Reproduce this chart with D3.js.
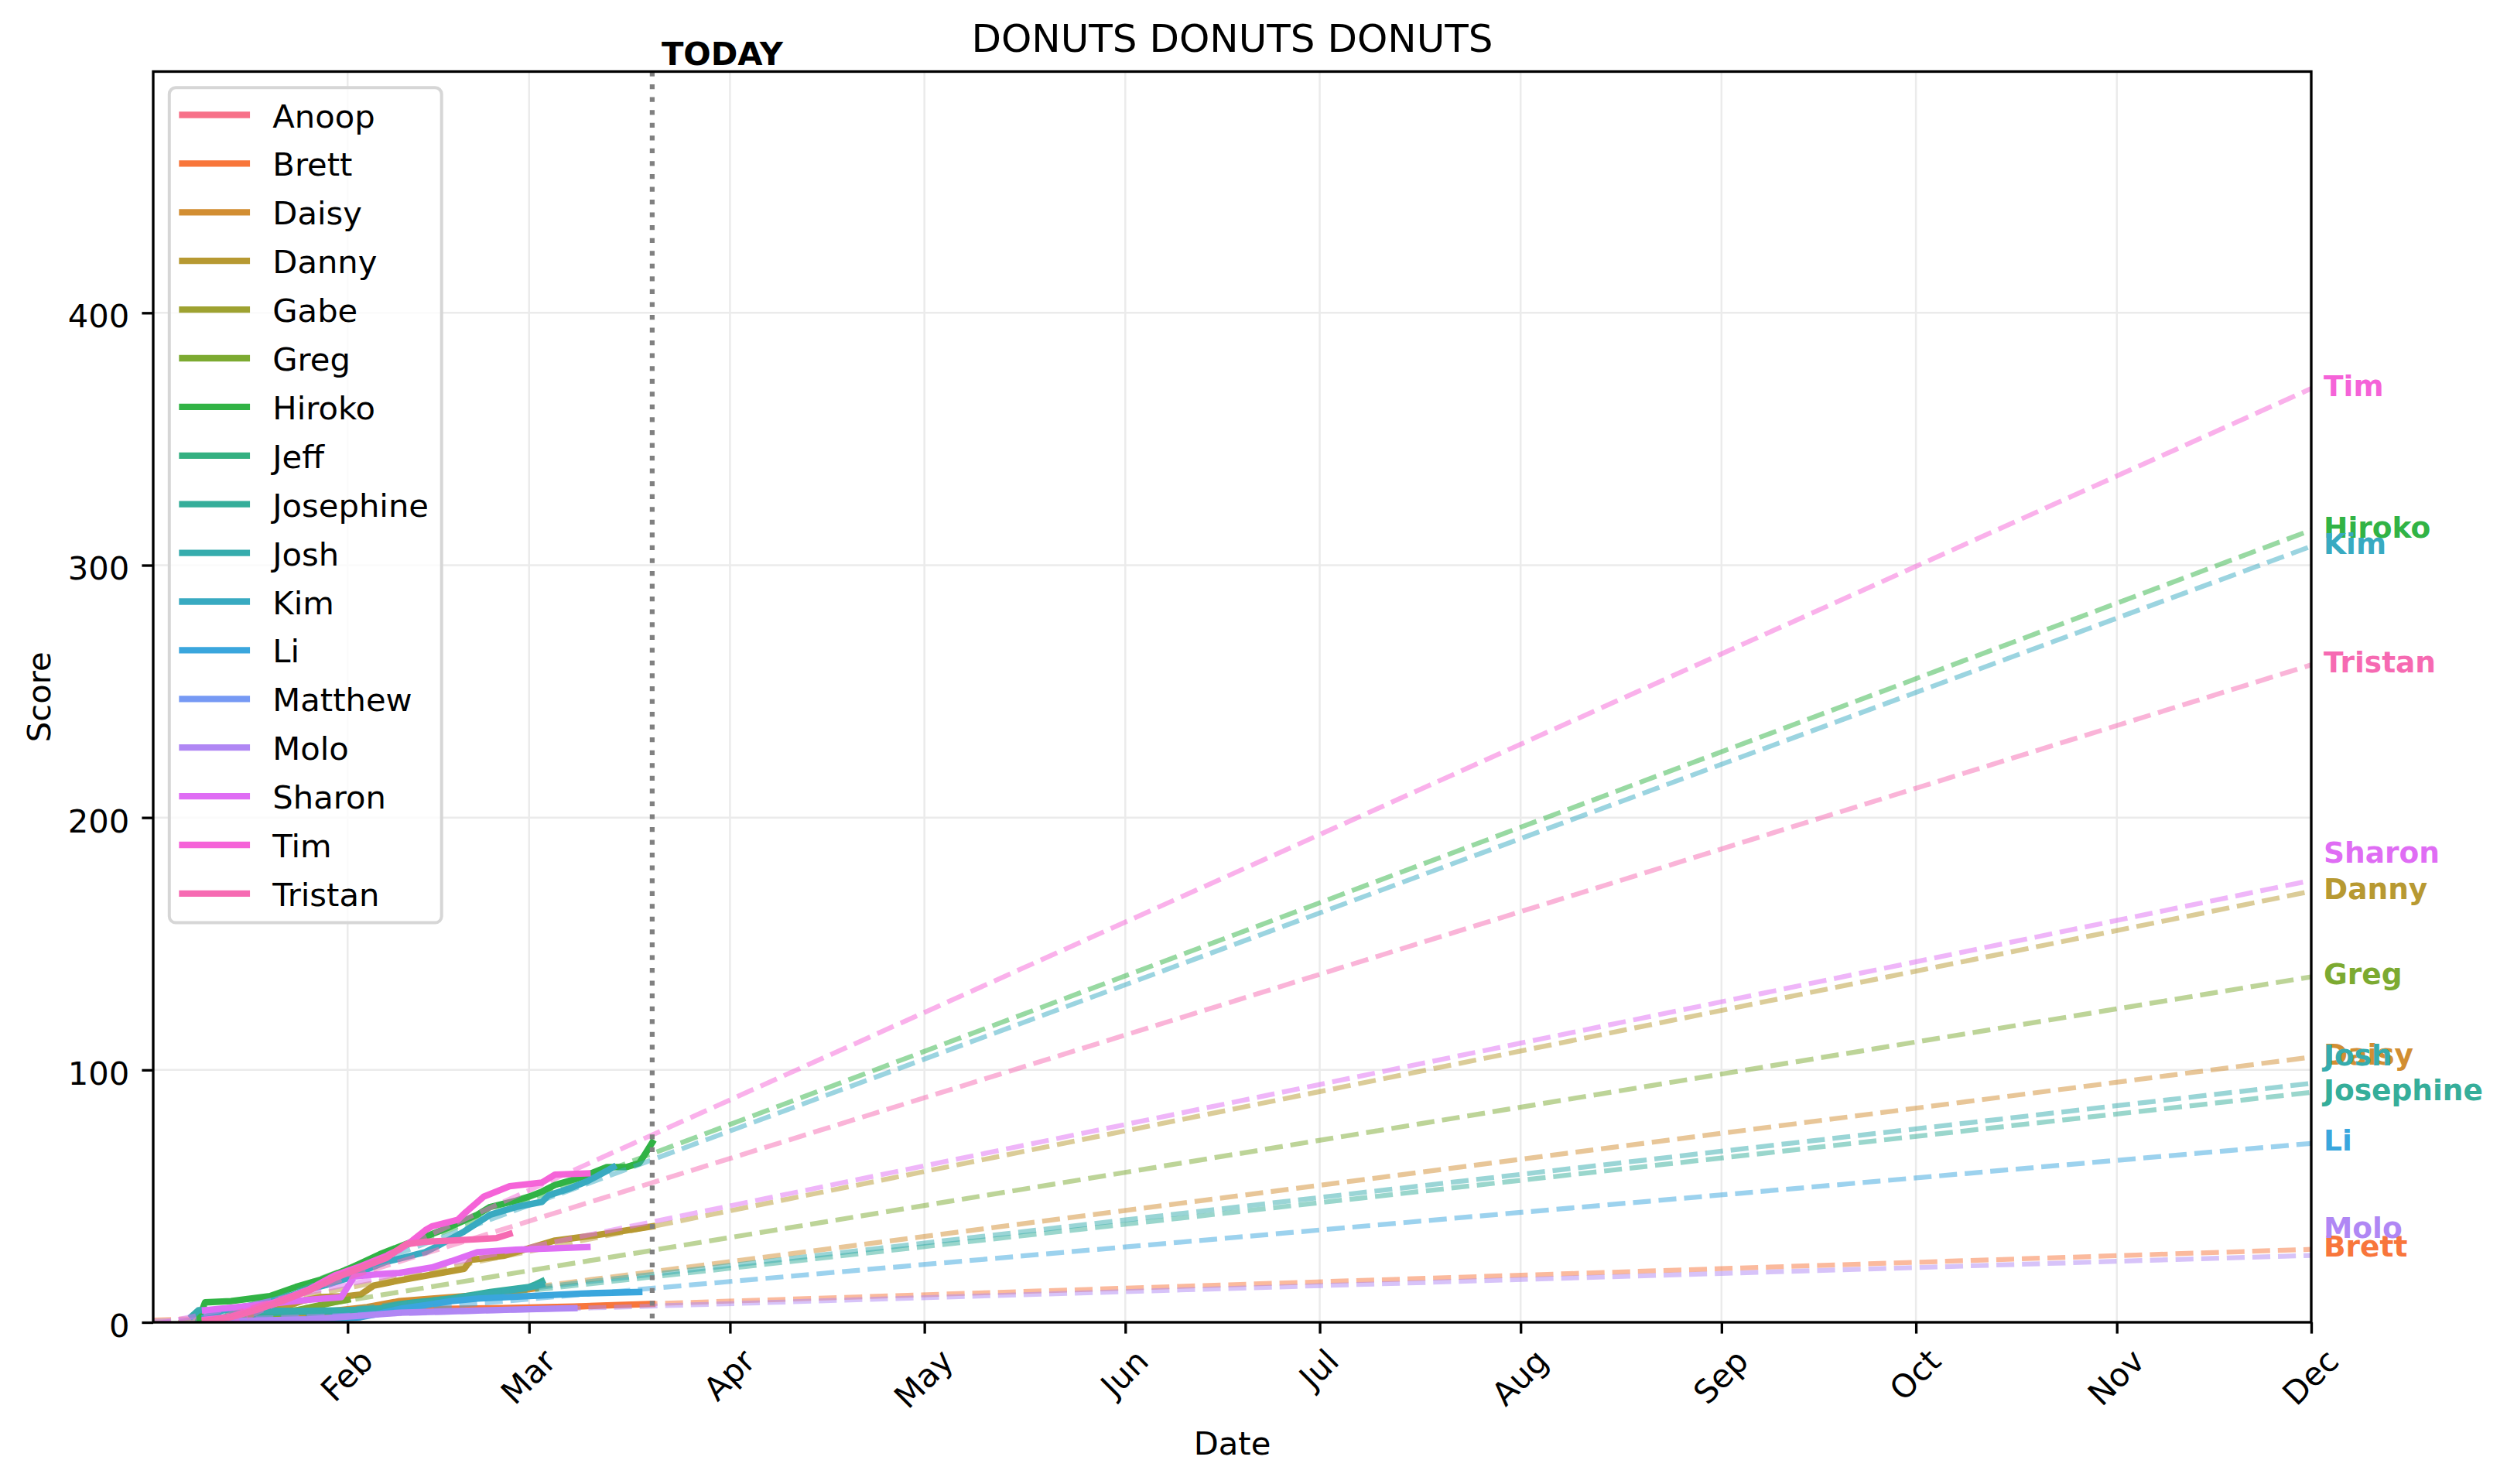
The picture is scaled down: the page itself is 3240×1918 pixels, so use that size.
<!DOCTYPE html>
<html>
<head>
<meta charset="utf-8">
<script src="https://cdn.jsdelivr.net/npm/d3@7"></script>
<style>
    body { margin: 0; background: #fff; }
    text { font-family: "DejaVu Sans", sans-serif; }
</style>
</head>
<body>
<svg id="chart" width="3240" height="1918"></svg>
<script>
const year = 2023;
const names = ["Anoop", "Brett", "Daisy", "Danny", "Gabe", "Greg", "Hiroko", "Jeff", "Josephine",
               "Josh", "Kim", "Li", "Matthew", "Molo", "Sharon", "Tim", "Tristan"];

// cumulative score per person, [MM-DD, score]
const anoop = [["01-09", 0], ["01-12", 0.6]];
const brett = [["01-12", 0.5], ["01-22", 1.8], ["02-01", 3], ["02-09", 4.5], ["02-14", 5.2], ["02-25", 5.6], ["03-08", 6.2], ["03-14", 6.8], ["03-20", 7.3]];
const daisy = [["01-12", 0.5], ["01-20", 2], ["01-28", 4], ["02-04", 6], ["02-09", 8.4], ["02-14", 9.4], ["02-20", 10.5], ["02-26", 12], ["03-02", 13.5]];
const danny = [["01-10", 0.5], ["01-16", 2], ["01-21", 5], ["01-25", 8.5], ["01-28", 10], ["02-01", 10.4], ["02-03", 11], ["02-05", 14.5], ["02-09", 16.6],
               ["02-19", 21.2], ["02-20", 24.7], ["02-25", 26.3], ["02-27", 27.8], ["03-05", 32.4], ["03-11", 34.4], ["03-20", 38]];
const gabe = [["01-15", 0.3], ["01-19", 1]];
const greg = [["01-14", 0.5], ["01-20", 2.8], ["01-22", 3.6], ["01-26", 5.8], ["01-30", 8], ["02-01", 8.9]];
const hiroko = [["01-09", 1], ["01-10", 7.9], ["01-14", 8.4], ["01-20", 10.4], ["01-24", 14], ["01-28", 17], ["02-01", 21], ["02-06", 27], ["02-10", 31],
                ["02-13", 33.9], ["02-17", 38], ["02-21", 42.6], ["02-23", 45.7], ["02-27", 48.2], ["03-01", 49.8], ["03-03", 51.8], ["03-05", 54.4],
                ["03-09", 57.4], ["03-13", 61.5], ["03-16", 61.5], ["03-18", 63.1], ["03-19", 67.1], ["03-20", 71.2]];
const jeff = [["01-10", 1], ["01-13", 2]];
const josephine = [["01-18", 3], ["01-22", 4], ["01-30", 4.3], ["02-06", 5.5], ["02-09", 7.2], ["02-11", 7.8], ["02-17", 9.4], ["02-23", 12],
                   ["03-01", 14], ["03-02", 15], ["03-03", 16.2]];
const josh = [["01-08", 2.5], ["01-09", 4.8], ["01-16", 4.8], ["01-24", 4.5], ["02-01", 4.8], ["02-07", 5.5], ["02-10", 7], ["02-17", 9],
              ["02-23", 11.5], ["03-01", 13.8], ["03-03", 15]];
const kim = [["01-10", 2], ["01-13", 5], ["01-18", 7], ["01-22", 9.5], ["01-26", 13], ["01-29", 15], ["02-01", 17.5], ["02-04", 21], ["02-07", 24],
             ["02-09", 25.2], ["02-13", 27.8], ["02-15", 30.4], ["02-19", 36], ["02-23", 42.6], ["02-27", 45.7], ["03-03", 47.7], ["03-04", 50.3],
             ["03-07", 52.8], ["03-10", 55.9], ["03-13", 60], ["03-14", 61.5]];
const li = [["01-12", 0.3], ["01-20", 0.8], ["01-28", 1.2], ["02-03", 2], ["02-06", 3.5], ["02-09", 5.3], ["02-13", 6.8], ["02-17", 8.4],
            ["02-21", 9.4], ["03-01", 10.4], ["03-09", 11.4], ["03-18", 12]];
const matthew = [["01-14", 0.3], ["01-20", 0.6], ["01-26", 1]];
const molo = [["01-14", 0.5], ["01-20", 0.8], ["01-26", 1.2], ["02-02", 2.4], ["02-09", 3.8], ["02-16", 4.3], ["02-23", 4.8], ["03-01", 5.2], ["03-08", 5.6]];
const sharon = [["01-10", 4.8], ["01-18", 6.8], ["01-26", 8.9], ["01-31", 9.9], ["02-01", 14], ["02-02", 18.1], ["02-06", 19.1], ["02-09", 19.6],
                ["02-14", 21.7], ["02-17", 24.2], ["02-21", 27.8], ["02-27", 28.8], ["03-05", 29.3], ["03-10", 29.8]];
const tim = [["01-10", 1], ["01-14", 2.2], ["01-18", 5.8], ["01-22", 8.9], ["01-26", 13], ["01-30", 18.6], ["02-03", 22.2], ["02-07", 26.3],
             ["02-09", 28.8], ["02-11", 32.4], ["02-13", 36.5], ["02-14", 38], ["02-18", 40.6], ["02-19", 43.1], ["02-22", 49.8], ["02-26", 53.9],
             ["03-03", 55.4], ["03-05", 58.5], ["03-10", 59]];
const tristan = [["01-10", 0.5], ["01-14", 2], ["01-18", 5], ["01-22", 8.5], ["01-26", 12.5], ["01-30", 17.5], ["02-03", 21.5], ["02-07", 25.5],
                 ["02-10", 30.9], ["02-13", 31.9], ["02-17", 32.4], ["02-21", 32.9], ["02-24", 33.4], ["02-26", 35]];

const scores = [anoop, brett, daisy, danny, gabe, greg, hiroko, jeff, josephine, josh, kim, li, matthew, molo, sharon, tim, tristan];

// trend lines: projected score on the first day and on Dec 1 (null = no trend)
const trendStart = [null, 0.9, -5.5, -2.0, null, -4.1, -7.5, null, -4.0, -3.8, -8.7, -3.8, null, 0.4, -0.9, -14.7, -6.4];
const trendEnd = [null, 28.9, 105.1, 170.8, null, 136.9, 313.9, null, 91.1, 94.7, 307.5, 70.9, null, 26.5, 175.1, 370.0, 260.5];

const firstDay = "01-02";
const lastDay = "12-01";
const today = "03-20";
const monthTicks = ["02-01", "03-01", "04-01", "05-01", "06-01", "07-01", "08-01", "09-01", "10-01", "11-01", "12-01"];
const scoreTicks = [0, 100, 200, 300, 400];
const scoreMax = 495.6;

// seaborn husl palette
const M = [[3.2406, -1.5372, -0.4986], [-0.9689, 1.8758, 0.0415], [0.0557, -0.2040, 1.0570]];

function maxChroma(L, H) {
    const hrad = H / 360 * 2 * Math.PI;
    const sinH = Math.sin(hrad), cosH = Math.cos(hrad);
    const sub1 = Math.pow(L + 16, 3) / 1560896;
    const sub2 = sub1 > 0.008856 ? sub1 : L / 903.3;
    let result = Infinity;
    M.forEach(([m1, m2, m3]) => {
        const top = (0.99915 * m1 + 1.05122 * m2 + 1.14460 * m3) * sub2;
        const rbottom = 0.86330 * m3 - 0.17266 * m2;
        const lbottom = 0.12949 * m3 - 0.38848 * m1;
        const bottom = (rbottom * sinH + lbottom * cosH) * sub2;
        [0, 1].forEach(t => {
            const C = L * (top - 1.05122 * t) / (bottom + 0.17266 * sinH * t);
            if (C > 0 && C < result) result = C;
        });
    });
    return result;
}

function husl(H, S, L) {
    const C = maxChroma(L, H) / 100 * S;
    const hrad = H / 360 * 2 * Math.PI;
    const U = Math.cos(hrad) * C, V = Math.sin(hrad) * C;
    const t = (L + 16) / 116;
    const Y = Math.pow(t, 3) > 0.008856 ? Math.pow(t, 3) : (116 * t - 16) / 903.3;
    const varU = U / (13 * L) + 0.19784;
    const varV = V / (13 * L) + 0.46834;
    const X = -(9 * Y * varU) / ((varU - 4) * varV - varU * varV);
    const Z = (9 * Y - 15 * varV * Y - varV * X) / (3 * varV);
    const rgb = M.map(r => {
        const c = r[0] * X + r[1] * Y + r[2] * Z;
        const g = c <= 0.0031308 ? 12.92 * c : 1.055 * Math.pow(c, 1 / 2.4) - 0.055;
        return Math.round(Math.max(0, Math.min(1, g)) * 255);
    });
    return d3.rgb(rgb[0], rgb[1], rgb[2]).formatHex();
}

const colors = names.map((n, i) => husl(((i / names.length + 0.01) % 1) * 359, 0.9 * 99, 0.65 * 99));

const parseDay = s => new Date(Date.UTC(year, +s.slice(0, 2) - 1, +s.slice(3, 5)));

class DonutChart {

    constructor() {
        // Define dimensions
        this.width = 3240;
        this.height = 1918;
        this.left = 198;
        this.right = 2987;
        this.top = 92.5;
        this.bottom = 1709;
        this.fs = 41.7;

        this.svg = d3.select("#chart");
        this.svg.append("rect").attr("width", this.width).attr("height", this.height).attr("fill", "#fff");

        this.createScales();
        this.drawGrid();
        this.drawSeries();
        this.drawToday();
        this.drawAxes();
        this.drawLegend();
        this.drawLabels();
    }

    createScales() {
        this.x = d3.scaleUtc()
            .domain([parseDay(firstDay), parseDay(lastDay)])
            .range([this.left, this.right]);
        this.y = d3.scaleLinear()
            .domain([0, scoreMax])
            .range([this.bottom, this.top]);
    }

    drawGrid() {
        const g = this.svg.append("g").attr("stroke", "#ebebeb").attr("stroke-width", 2.5);
        g.selectAll(".vx")
            .data(monthTicks)
            .enter()
            .append("line")
                .attr("x1", d => this.x(parseDay(d)))
                .attr("x2", d => this.x(parseDay(d)))
                .attr("y1", this.top)
                .attr("y2", this.bottom);
        g.selectAll(".hy")
            .data(scoreTicks)
            .enter()
            .append("line")
                .attr("x1", this.left)
                .attr("x2", this.right)
                .attr("y1", d => this.y(d))
                .attr("y2", d => this.y(d));
    }

    drawSeries() {
        this.svg.append("clipPath").attr("id", "plot-clip")
            .append("rect")
                .attr("x", this.left)
                .attr("y", this.top)
                .attr("width", this.right - this.left)
                .attr("height", this.bottom - this.top);

        const plot = this.svg.append("g").attr("clip-path", "url(#plot-clip)");
        const line = d3.line()
            .x(d => this.x(parseDay(d[0])))
            .y(d => this.y(d[1]));

        names.forEach((name, i) => {
            plot.append("path")
                .attr("d", line(scores[i]))
                .attr("fill", "none")
                .attr("stroke", colors[i])
                .attr("stroke-width", 8.33)
                .attr("stroke-linejoin", "round")
                .attr("stroke-linecap", "square");

            if (trendEnd[i] === null) return;
            const trend = [[firstDay, trendStart[i]], [lastDay, trendEnd[i]]];
            plot.append("path")
                .attr("d", line(trend))
                .attr("fill", "none")
                .attr("stroke", colors[i])
                .attr("stroke-opacity", 0.5)
                .attr("stroke-width", 6.25)
                .attr("stroke-dasharray", "23.1 10");
        });
    }

    drawToday() {
        const tx = this.x(parseDay(today));
        this.svg.append("line")
            .attr("x1", tx).attr("x2", tx)
            .attr("y1", this.top).attr("y2", this.bottom)
            .attr("stroke", "#808080")
            .attr("stroke-width", 6.25)
            .attr("stroke-dasharray", "6.25 10.3");
        this.svg.append("text")
            .attr("x", tx + 12)
            .attr("y", this.top - 8.5)
            .attr("font-size", this.fs)
            .attr("font-weight", "bold")
            .text("TODAY");
    }

    drawAxes() {
        const fs = this.fs;

        // Frame
        this.svg.append("rect")
            .attr("x", this.left).attr("y", this.top)
            .attr("width", this.right - this.left)
            .attr("height", this.bottom - this.top)
            .attr("fill", "none")
            .attr("stroke", "#000")
            .attr("stroke-width", 3.33);

        const xAxis = this.svg.append("g")
            .attr("transform", `translate(0,${this.bottom})`)
            .call(d3.axisBottom(this.x)
                .tickValues(monthTicks.map(parseDay))
                .tickFormat(d3.utcFormat("%b"))
                .tickSize(14.6));
        xAxis.select(".domain").remove();
        xAxis.attr("font-size", fs).attr("font-family", "DejaVu Sans");
        xAxis.selectAll(".tick line").attr("stroke-width", 3.33);
        xAxis.selectAll(".tick text").each(function() {
            const w = this.getComputedTextLength();
            const cy = 29.2 + (w + fs) * Math.SQRT1_2 / 2;
            d3.select(this)
                .attr("x", 0)
                .attr("y", cy)
                .attr("dy", "0.3em")
                .attr("fill", "#000")
                .attr("text-anchor", "middle")
                .attr("transform", `rotate(-45,0,${cy})`);
        });

        const yAxis = this.svg.append("g")
            .attr("transform", `translate(${this.left},0)`)
            .call(d3.axisLeft(this.y)
                .tickValues(scoreTicks)
                .tickSize(14.6)
                .tickPadding(16));
        yAxis.select(".domain").remove();
        yAxis.attr("font-size", fs).attr("font-family", "DejaVu Sans");
        yAxis.selectAll(".tick line").attr("stroke-width", 3.33);
        yAxis.selectAll(".tick text").attr("dy", "0.44em").attr("fill", "#000");

        // Titles
        const midX = (this.left + this.right) / 2;
        this.svg.append("text")
            .attr("x", midX).attr("y", 66.7)
            .attr("text-anchor", "middle")
            .attr("font-size", 50)
            .text("DONUTS DONUTS DONUTS");
        this.svg.append("text")
            .attr("x", midX).attr("y", 1880)
            .attr("text-anchor", "middle")
            .attr("font-size", fs)
            .text("Date");
        this.svg.append("text")
            .attr("transform", `translate(65,${(this.top + this.bottom) / 2}) rotate(-90)`)
            .attr("text-anchor", "middle")
            .attr("font-size", fs)
            .text("Score");
    }

    drawLegend() {
        const fs = this.fs;
        const x0 = this.left + 20.8;
        const y0 = this.top + 20.8;
        const rowY = i => 148.5 + i * 62.9;
        const lineX0 = x0 + 16.7, lineX1 = lineX0 + 83.4;
        const textX = lineX1 + 33.4;

        const legend = this.svg.append("g");
        const frame = legend.append("rect")
            .attr("x", x0).attr("y", y0)
            .attr("rx", 8.3).attr("ry", 8.3)
            .attr("fill", "#fff")
            .attr("fill-opacity", 0.8)
            .attr("stroke", "#d6d6d6")
            .attr("stroke-width", 4);

        legend.selectAll("line")
            .data(names)
            .enter()
            .append("line")
                .attr("x1", lineX0).attr("x2", lineX1)
                .attr("y1", (d, i) => rowY(i)).attr("y2", (d, i) => rowY(i))
                .attr("stroke", (d, i) => colors[i])
                .attr("stroke-width", 8.33)
                .attr("stroke-linecap", "square");

        const labels = legend.selectAll("text")
            .data(names)
            .enter()
            .append("text")
                .attr("x", textX)
                .attr("y", (d, i) => rowY(i) + 16)
                .attr("font-size", fs)
                .text(d => d);

        let maxW = 0;
        labels.each(function() { maxW = Math.max(maxW, this.getComputedTextLength()); });
        frame.attr("width", textX + maxW + 16.7 - x0)
            .attr("height", rowY(names.length - 1) + 21 + 16.7 - y0);
    }

    drawLabels() {
        // Name at the end of each trend; nudge up when it sits on top of an earlier one
        const placed = [];
        names.forEach((name, i) => {
            if (trendEnd[i] === null) return;
            let v = trendEnd[i];
            if (placed.some(p => Math.abs(p - v) < 5)) v += 10;
            placed.push(v);
            this.svg.append("text")
                .attr("x", this.x(parseDay(lastDay)) + 16)
                .attr("y", this.y(v) + 9.75)
                .attr("font-size", 37.5)
                .attr("font-weight", "bold")
                .attr("fill", colors[i])
                .text(name);
        });
    }
}

new DonutChart();
</script>
</body>
</html>
